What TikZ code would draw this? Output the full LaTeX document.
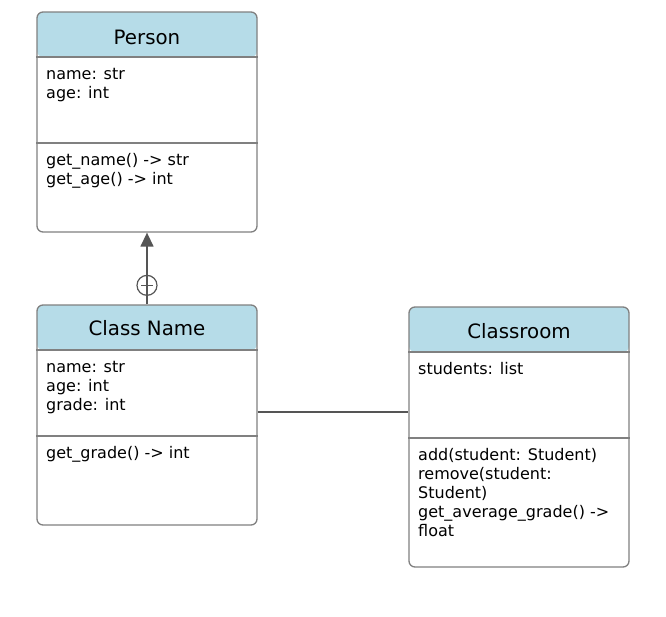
\documentclass[tikz,border=0pt]{standalone}
\usepackage{fontspec}
\setmainfont{DejaVu Sans}
\usetikzlibrary{arrows.meta,calc}
\definecolor{hdr}{RGB}{182,220,232}
\definecolor{bord}{RGB}{128,128,128}
\definecolor{conn}{RGB}{85,85,85}
\begin{document}
\begin{tikzpicture}[x=1pt,y=-1pt,
  classbox/.style={draw=bord, line width=1.3pt, rounded corners=6pt,
    minimum width=220pt, inner sep=0pt,
    path picture={\fill[hdr] (path picture bounding box.north west) rectangle ([yshift=-45pt]path picture bounding box.north east);}},
  divider/.style={draw=bord, line width=1.3pt},
  txt/.style={anchor=base west, inner sep=0pt, font=\fontsize{16pt}{19pt}\selectfont},
  ttl/.style={anchor=base, inner sep=0pt, font=\fontsize{19.8pt}{23pt}\selectfont},
  conline/.style={draw=conn, line width=1.4pt}]
\useasboundingbox (0,0) rectangle (666,616);

% Person
\node[classbox, minimum height=220pt] (person) at (147,122) {};
\draw[divider] (person.west |- 0,57) -- (person.east |- 0,57);
\draw[divider] (person.west |- 0,143) -- (person.east |- 0,143);
\node[ttl] (persont) at (147,44) {Person};
\foreach \t [count=\i] in {{name: str},{age: int}}
  \node[txt] (pa\i) at (46,{79+19*(\i-1)}) {\t};
\foreach \t [count=\i] in {{get\_name() -> str},{get\_age() -> int}}
  \node[txt] (pm\i) at (46,{165+19*(\i-1)}) {\t};

% Class Name
\node[classbox, minimum height=220pt] (cls) at (147,415) {};
\draw[divider] (cls.west |- 0,350) -- (cls.east |- 0,350);
\draw[divider] (cls.west |- 0,436) -- (cls.east |- 0,436);
\node[ttl] (clst) at (147,335) {Class Name};
\foreach \t [count=\i] in {{name: str},{age: int},{grade: int}}
  \node[txt] (ca\i) at (46,{372+19*(\i-1)}) {\t};
\node[txt] (cm1) at (46,458) {get\_grade() -> int};

% Classroom
\node[classbox, minimum height=260pt] (room) at (519,437) {};
\draw[divider] (room.west |- 0,352) -- (room.east |- 0,352);
\draw[divider] (room.west |- 0,438) -- (room.east |- 0,438);
\node[ttl] (roomt) at (519,338) {Classroom};
\node[txt] (ra1) at (418,374) {students: list};
\foreach \t [count=\i] in {{add(student: Student)},{remove(student:},{Student)},{get\_average\_grade() ->},{float}}
  \node[txt] (rm\i) at (418,{460+19*(\i-1)}) {\t};

% connectors
\draw[conline, -{Triangle[length=14pt,width=13pt]}] (cls.north) -- (person.south);
\node[draw=conn, line width=1.2pt, circle, minimum size=20pt, inner sep=0pt] (plus) at ($(cls.north)+(0,-19)$) {};
\draw[draw=conn, line width=1.2pt] ([xshift=-6pt]plus.center) -- ([xshift=6pt]plus.center);
\coordinate (lk) at (0,412);
\draw[conline] (cls.east |- lk) -- (room.west |- lk);
\end{tikzpicture}
\end{document}
